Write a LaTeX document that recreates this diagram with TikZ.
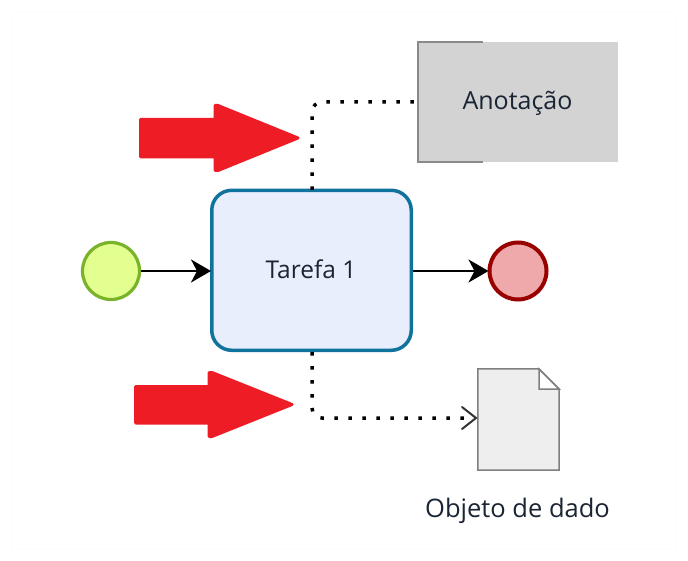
\documentclass[tikz,border=0pt]{standalone}
\usepackage{fontspec}
\setmainfont{Open Sans}
\usetikzlibrary{arrows.meta,calc}
\definecolor{taskline}{HTML}{10739E}
\definecolor{taskfill}{HTML}{E9EEFC}
\definecolor{startline}{HTML}{7AB32A}
\definecolor{startfill}{HTML}{E2FF90}
\definecolor{endline}{HTML}{990000}
\definecolor{endfill}{HTML}{EFA9AB}
\definecolor{redarrow}{HTML}{EE1C25}
\definecolor{notefill}{HTML}{D3D3D3}
\definecolor{bracket}{HTML}{8A8A8A}
\definecolor{docfill}{HTML}{EEEEEE}
\definecolor{docline}{HTML}{7F7F7F}
\definecolor{labelcol}{HTML}{1A2433}
\tikzset{
  x=1pt,y=-1pt,
  lbl/.style={text=labelcol,font=\fontsize{25}{29}\selectfont,inner sep=0pt},
  datalbl/.style={text=labelcol,font=\fontsize{25.5}{29}\selectfont,inner sep=0pt},
  tasklbl/.style={text=labelcol,font=\fontsize{24.5}{28}\selectfont,inner sep=0pt},
  taskbox/.style={draw=taskline,fill=taskfill,line width=3.5pt,rounded corners=20pt,minimum width=199.5pt,minimum height=160pt,inner sep=0pt},
  startev/.style={circle,draw=startline,fill=startfill,line width=3.2pt,minimum size=57pt,inner sep=0pt},
  endev/.style={circle,draw=endline,fill=endfill,line width=4pt,minimum size=57pt,inner sep=0pt},
  notebox/.style={fill=notefill,minimum width=200pt,minimum height=120pt,inner sep=0pt},
  flow/.style={line width=2pt,black,-{Stealth[length=20pt,width=23pt,inset=6pt]},shorten >=-1pt},
  assoc/.style={line width=3.5pt,black,dash pattern=on 3.5pt off 10.5pt,rounded corners=10pt},
  bigarrow/.style={fill=redarrow,draw=redarrow,line width=3pt,line join=round},
}
\begin{document}
\begin{tikzpicture}
\useasboundingbox (0,0) rectangle (688,561);
\fill[white] (0,0) rectangle (688,561);
\draw[draw=black!1] (12,12) rectangle (676,549);

\node[notebox] (note) at (518,102) {};
\node[lbl,anchor=base] (notelabel) at (517.5,110) {Anotação};
\draw[bracket,line width=1.5pt] (483,42) -- (418,42) -- (418,162) -- (483,162);

\node[taskbox] (task) at (311.5,270.3) {};
\node[tasklbl,anchor=base] (tasklabel) at (311,279) {Tarefa 1};
\node[startev] (start) at (111,271) {};
\node[endev] (end) at (518,271) {};

\node[minimum width=81pt,minimum height=101pt,inner sep=0pt] (data) at (518.5,419.5) {};
\draw[docline,fill=docfill,line width=1.5pt,line join=miter]
  (data.north west) -- (539,369) -- (559,389) -- (data.south east) -- (data.south west) -- cycle;
\fill[white] (539,369) -- (559,389) -- (539,389) -- cycle;
\draw[docline,line width=1.5pt] (539,369) -- (539,389) -- (559,389) -- cycle;
\node[datalbl,anchor=base] (datalabel) at (517.5,517) {Objeto de dado};

\draw[flow] (start) -- (task.west |- start);
\draw[flow] (task.east |- end) -- (end);

\coordinate (ntarget) at (note.west);
\coordinate (taskN) at (312,190);
\coordinate (taskS) at (312,352);
\coordinate (dtarget) at (470,418);
\draw[assoc] (taskN) |- (ntarget);
\draw[assoc] (taskS) |- (dtarget);
\draw[black!80,line width=2pt,line cap=round] (462,407) -- (476,418) -- (462,429);

\fill[bigarrow] (140.5,119.5) -- (215,119.5) -- (215,105.5) -- (218,105.5) -- (298,138) -- (218,170.5) -- (215,170.5) -- (215,157) -- (140.5,157) -- cycle;
\fill[bigarrow] (135.5,386.5) -- (209,386.5) -- (209,372.5) -- (212,372.5) -- (292,404.5) -- (212,436.5) -- (209,436.5) -- (209,423) -- (135.5,423) -- cycle;
\end{tikzpicture}
\end{document}
